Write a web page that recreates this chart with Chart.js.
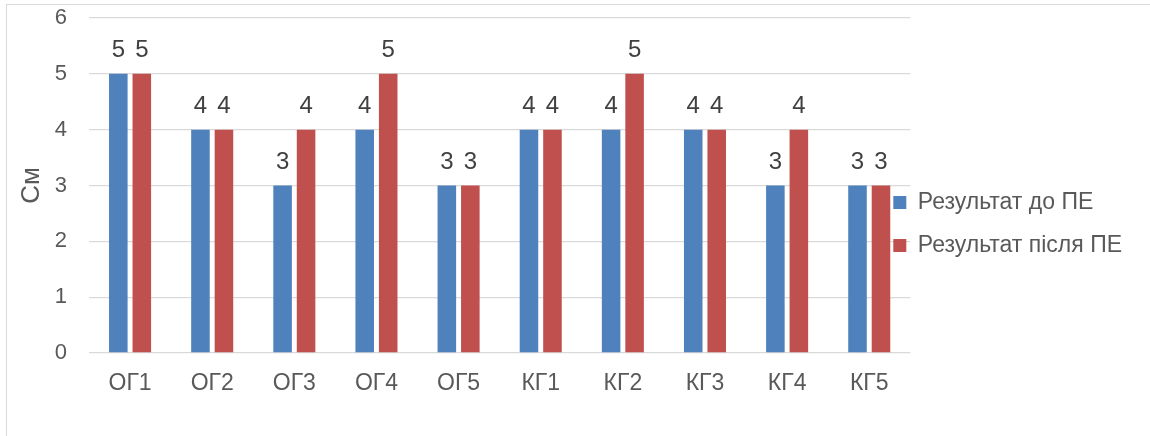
<!DOCTYPE html>
<html>
<head>
<meta charset="utf-8">
<script src="https://cdn.jsdelivr.net/npm/chart.js@4.4.1/dist/chart.umd.min.js"></script>
<style>
  html, body { margin: 0; padding: 0; background: #fff; }
  #wrap { position: relative; width: 1150px; height: 436px; overflow: hidden; }
  #frame { position: absolute; left: 6px; top: 4px; width: 1200px; height: 500px;
           border-left: 1px solid #d9d9d9; border-top: 1px solid #d9d9d9; }
  canvas { position: absolute; left: 0; top: 0; }
</style>
</head>
<body>
<div id="wrap">
  <div id="frame"></div>
  <canvas id="chart" width="1150" height="436"></canvas>
</div>
<script>
// data
const groups = ["ОГ1", "ОГ2", "ОГ3", "ОГ4", "ОГ5", "КГ1", "КГ2", "КГ3", "КГ4", "КГ5"];
const before = [5, 4, 3, 4, 3, 4, 4, 4, 3, 3];
const after = [5, 4, 4, 5, 3, 4, 5, 4, 4, 3];
const seriesNames = ["Результат до ПЕ", "Результат після ПЕ"];
const yTicks = [0, 1, 2, 3, 4, 5, 6];

const FONT = "'Liberation Sans', Arial, sans-serif";
Chart.defaults.font.family = FONT;
Chart.defaults.color = "#595959";

// value labels above the bars
const valueLabels = {
  id: "valueLabels",
  afterDatasetsDraw(chart) {
    const ctx = chart.ctx;
    ctx.save();
    ctx.font = "24px " + FONT;
    ctx.fillStyle = "#404040";
    ctx.textAlign = "center";
    ctx.textBaseline = "alphabetic";
    chart.data.datasets.forEach((ds, i) => {
      chart.getDatasetMeta(i).data.forEach((bar, j) => {
        ctx.fillText(String(ds.data[j]), bar.x, bar.y - 17);
      });
    });
    ctx.restore();
  }
};

// let the legend sit slightly over the plot, as in the original
const legendShift = {
  id: "legendShift",
  afterLayout(chart) {
    chart.legend.left -= 37;
    chart.legend.right -= 37;
    chart.legend.top -= 3;
    chart.legend.bottom -= 3;
  }
};

new Chart(document.getElementById("chart"), {
  type: "bar",
  data: {
    labels: groups,
    datasets: [{
      label: seriesNames[0],
      data: before,
      backgroundColor: "#4f81bd"
    }, {
      label: seriesNames[1],
      data: after,
      backgroundColor: "#c0504d"
    }]
  },
  options: {
    responsive: false,
    animation: false,
    devicePixelRatio: 1,
    categoryPercentage: 0.572,
    barPercentage: 0.79,
    layout: { padding: { top: 18, left: 0, right: -19, bottom: 0 } },
    plugins: {
      tooltip: { enabled: false },
      legend: {
        position: "right",
        labels: {
          boxWidth: 13,
          boxHeight: 13,
          padding: 20,
          color: "#595959",
          font: { size: 23 }
        }
      }
    },
    scales: {
      x: {
        grid: { display: false },
        border: { display: false },
        ticks: { padding: 9, font: { size: 23 }, color: "#595959" },
        afterFit(scale) { scale.height = 83; }
      },
      y: {
        min: 0,
        max: 6,
        afterBuildTicks(scale) { scale.ticks = yTicks.map(v => ({ value: v })); },
        grid: { color: "#d9d9d9", lineWidth: 1.3, drawTicks: false },
        border: { display: false },
        ticks: { padding: 22, font: { size: 22 }, color: "#595959" },
        title: {
          display: true,
          text: "См",
          color: "#595959",
          font: { size: 26 },
          padding: { top: 16, bottom: 0 }
        },
        afterFit(scale) {
          scale.width = 89;
          scale.paddingTop = 0;
          scale.paddingBottom = 0;
        }
      }
    }
  },
  plugins: [valueLabels, legendShift]
});
</script>
</body>
</html>
